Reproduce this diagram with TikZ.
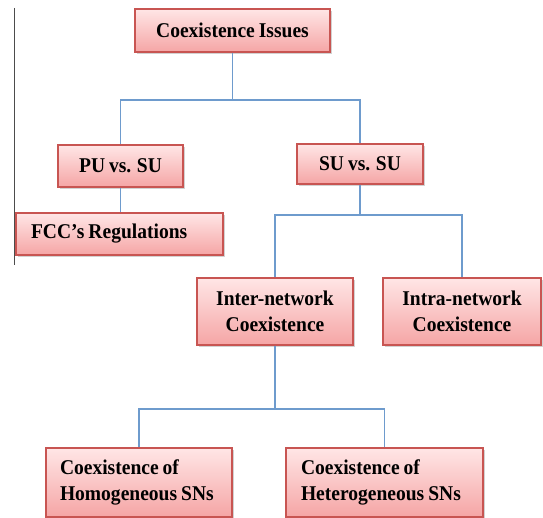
\documentclass[tikz,border=0pt]{standalone}
\usepackage{fontspec}
\setmainfont{Liberation Serif}[FakeStretch=0.93]
\usetikzlibrary{shadows}
\definecolor{boxborder}{RGB}{200,85,82}
\definecolor{boxtop}{RGB}{255,230,230}
\definecolor{boxbot}{RGB}{245,165,165}
\definecolor{connblue}{RGB}{110,155,205}
\newcommand{\boxfont}{\fontsize{21}{26}\selectfont\bfseries\spaceskip=0.19em plus 0.02em minus 0.02em\relax}
\tikzset{
  cbox/.style={draw=boxborder, line width=1.1pt, top color=boxtop, bottom color=boxbot,
    drop shadow={opacity=0.35, shadow xshift=1.6pt, shadow yshift=-1.8pt},
    font=\boxfont, inner ysep=0pt},
  ctext/.style={cbox, align=center, inner xsep=0pt},
  ltext/.style={cbox, align=left},
  conn/.style={draw=connblue, line width=1.3pt}
}
\begin{document}
\begin{tikzpicture}[x=1pt,y=-1pt]
\useasboundingbox (0,0) rectangle (543,518);
\fill[white] (0,0) rectangle (543,518);
\draw[black!70, line width=1pt] (14,8) -- (14,265);
% junction levels
\coordinate (j1) at (0,100);
\coordinate (j2) at (0,215);
\coordinate (j3) at (0,409);
% nodes
\node[ctext, minimum width=195pt, minimum height=43pt] (issues) at (232.5,30.5) {Coexistence Issues};
\node[ctext, minimum width=125pt, minimum height=42pt] (pu) at (120.5,166) {PU vs. SU};
\node[ctext, minimum width=126pt, minimum height=40pt] (su) at (360,164) {SU vs. SU};
\node[ltext, text width=177pt, inner xsep=15pt, minimum height=42pt] (fcc) at (119.5,234) {\boxfont FCC’s Regulations};
\node[ctext, minimum width=156pt, minimum height=67pt] (inter) at (275,311.5) {Inter-network\\Coexistence};
\node[ctext, minimum width=158pt, minimum height=67pt] (intra) at (462,311.5) {Intra-network\\Coexistence};
\node[ltext, text width=158pt, inner xsep=14pt, minimum height=69pt] (homog) at (139,482.5) {\boxfont Coexistence of\\Homogeneous SNs};
\node[ltext, text width=167pt, inner xsep=15pt, minimum height=69pt] (hetero) at (384.5,482.5) {\boxfont Coexistence of\\Heterogeneous SNs};
% lines
\draw[conn] (issues.south) |- (pu.north |- j1) -- (pu.north);
\draw[conn] (issues.south) |- (su.north |- j1) -- (su.north);
\draw[conn] (pu.south) -- (fcc.north -| pu.south);
\draw[conn] (su.south) |- (inter.north |- j2) -- (inter.north);
\draw[conn] (su.south) |- (intra.north |- j2) -- (intra.north);
\draw[conn] (inter.south) |- (homog.north |- j3) -- (homog.north);
\draw[conn] (inter.south) |- (hetero.north |- j3) -- (hetero.north);
\end{tikzpicture}
\end{document}
